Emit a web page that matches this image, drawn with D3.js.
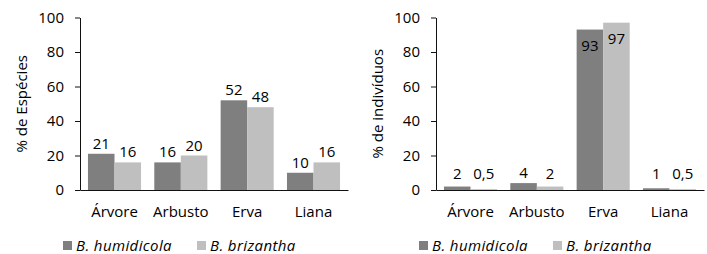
<!DOCTYPE html>
<html lang="pt">
<head>
  <meta charset="UTF-8">
  <title>espécies e indivíduos</title>
  <script src="https://cdn.jsdelivr.net/npm/d3@7"></script>
  <style>
    body { margin: 0; background: #fff; }
    svg text { font-family: "Open Sans", sans-serif; fill: #000; font-size: 15px; }
    .axis path, .axis line { stroke: #111; }
    .legend { font-style: italic; letter-spacing: 0.4px; }
  </style>
</head>
<body>
  <svg width="707" height="254"></svg>
  <script>
    var categories = ["Árvore", "Arbusto", "Erva", "Liana"];
    var series = ["B. humidicola", "B. brizantha"];
    var especiesHumidicola = [21, 16, 52, 10];
    var especiesBrizantha = [16, 20, 48, 16];
    var individuosHumidicola = [2, 4, 93, 1];
    var individuosBrizantha = [0.5, 2, 97, 0.5];
    var yTicks = [0, 20, 40, 60, 80, 100];
    var colors = ["#7f7f7f", "#bfbfbf"];

    var svg = d3.select("svg");

    function fmt(v) { return String(v).replace(".", ","); }

    function drawChart(left, title, values, inside) {
      var g = svg.append("g").attr("transform", "translate(" + left + ",0)");
      var width = 268, top = 17.5, bottom = 190;

      var x = d3.scaleBand().domain(categories).range([0, width])
        .paddingInner(0.2).paddingOuter(0.12);
      var xs = d3.scaleBand().domain(series).range([0, x.bandwidth()]);
      var y = d3.scaleLinear().domain([0, 100]).range([bottom, top]);

      // bars
      var rows = categories.map(function(c, i) {
        return series.map(function(s, j) { return {cat: c, s: s, v: values[j][i], j: j}; });
      });
      var grp = g.selectAll(".grp").data(rows).enter().append("g")
        .attr("transform", function(d) { return "translate(" + x(d[0].cat) + ",0)"; });
      grp.selectAll("rect").data(function(d) { return d; }).enter().append("rect")
        .attr("x", function(d) { return xs(d.s); })
        .attr("y", function(d) { return y(d.v); })
        .attr("width", xs.bandwidth())
        .attr("height", function(d) { return bottom - y(d.v); })
        .attr("fill", function(d) { return colors[d.j]; });

      // data labels
      grp.selectAll("text").data(function(d) { return d; }).enter().append("text")
        .attr("x", function(d) { return xs(d.s) + xs.bandwidth() / 2; })
        .attr("y", function(d) {
          if (inside && d.v > 90) return y(d.v) + 21;
          return inside ? Math.min(y(d.v) - 5, bottom - 11) : y(d.v) - 5;
        })
        .attr("text-anchor", "middle")
        .text(function(d) { return fmt(d.v); });

      // axes
      g.append("g").attr("class", "axis")
        .attr("transform", "translate(0," + bottom + ")")
        .call(d3.axisBottom(x).tickSize(0).tickPadding(16))
        .selectAll("text").style("font-size", "15px").attr("fill", "#000");

      g.append("g").attr("class", "axis")
        .call(d3.axisLeft(y).tickValues(yTicks).tickSizeInner(5).tickSizeOuter(0).tickPadding(11))
        .selectAll("text").style("font-size", "15px").attr("fill", "#000");

      g.append("text")
        .attr("transform", "translate(-58," + ((top + bottom) / 2) + ") rotate(-90)")
        .attr("text-anchor", "middle")
        .attr("dy", "0.35em")
        .text(title);

      // legend
      var legX = [-17, 117];
      series.forEach(function(s, j) {
        g.append("rect").attr("x", legX[j]).attr("y", 241)
          .attr("width", 9).attr("height", 9).attr("fill", colors[j]);
        g.append("text").attr("class", "legend")
          .attr("x", legX[j] + 13).attr("y", 251)
          .text(s);
      });
    }

    drawChart(80, "% de Espécies", [especiesHumidicola, especiesBrizantha], false);
    drawChart(436, "% de indivíduos", [individuosHumidicola, individuosBrizantha], true);
  </script>
</body>
</html>
